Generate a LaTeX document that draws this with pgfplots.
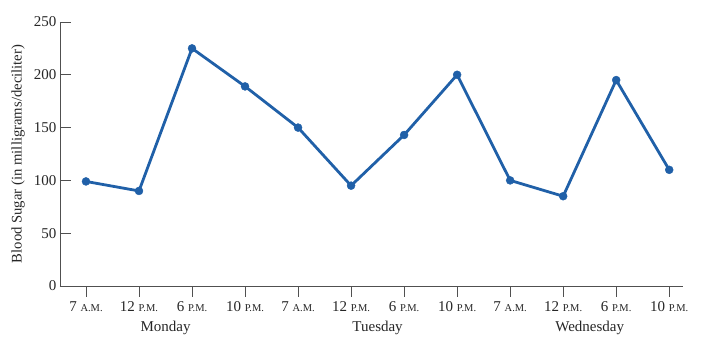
\documentclass[border=0pt]{standalone}
\usepackage{pgfplots}
\pgfplotsset{compat=1.18}
\usepackage{fontspec}
\setmainfont{Liberation Serif}
\definecolor{bsblue}{RGB}{32,96,168}
\definecolor{axgray}{RGB}{80,80,80}
\newcommand{\sm}[1]{{\fontsize{10.5pt}{11pt}\selectfont #1}}
\begin{document}
\begin{tikzpicture}
\begin{axis}[
  scale only axis, width=623pt, height=264pt,
  xmin=-0.49, xmax=11.26, ymin=0, ymax=250,
  axis x line*=bottom, axis y line*=left,
  axis line style={axgray, line width=0.8pt},
  tick align=inside, major tick length=11pt,
  tick style={axgray, line width=0.8pt},
  xtick style={yshift=-11pt},
  xtick={0,...,11},
  xticklabels={7 \sm{A.M.},12 \sm{P.M.},6 \sm{P.M.},10 \sm{P.M.},7 \sm{A.M.},12 \sm{P.M.},6 \sm{P.M.},10 \sm{P.M.},7 \sm{A.M.},12 \sm{P.M.},6 \sm{P.M.},10 \sm{P.M.}},
  ytick={0,50,100,150,200,250},
  /pgf/number format/assume math mode=true,
  ticklabel style={font=\fontsize{15pt}{17pt}\selectfont, text=black!85},
  xticklabel style={anchor=base, yshift=-26pt},
  ylabel={Blood Sugar (in milligrams/deciliter)},
  ylabel style={at={(rel axis cs:-0.0674,0.5)}, anchor=center, font=\fontsize{14.7pt}{17pt}\selectfont, text=black!85},
  clip=false,
]
\addplot[bsblue, line width=2.8pt, mark=*, mark size=4pt, mark options={solid, fill=bsblue, draw=bsblue, line width=0.4pt}]
  coordinates {(0,99) (1,90) (2,225) (3,189) (4,150) (5,95) (6,143) (7,200) (8,100) (9,85) (10,195) (11,110)};
\node[anchor=base, font=\fontsize{15pt}{17pt}\selectfont, text=black!85] at (axis cs:1.5,0) [yshift=-46pt] {Monday};
\node[anchor=base, font=\fontsize{15pt}{17pt}\selectfont, text=black!85] at (axis cs:5.5,0) [yshift=-46pt] {Tuesday};
\node[anchor=base, font=\fontsize{15pt}{17pt}\selectfont, text=black!85] at (axis cs:9.5,0) [yshift=-46pt] {Wednesday};
\coordinate (bl) at (rel axis cs:-0.0963,-0.2538);
\coordinate (tr) at (rel axis cs:1.0321,1.0833);
\end{axis}
\pgfresetboundingbox
\path (bl) rectangle (tr);
\end{tikzpicture}
\end{document}
